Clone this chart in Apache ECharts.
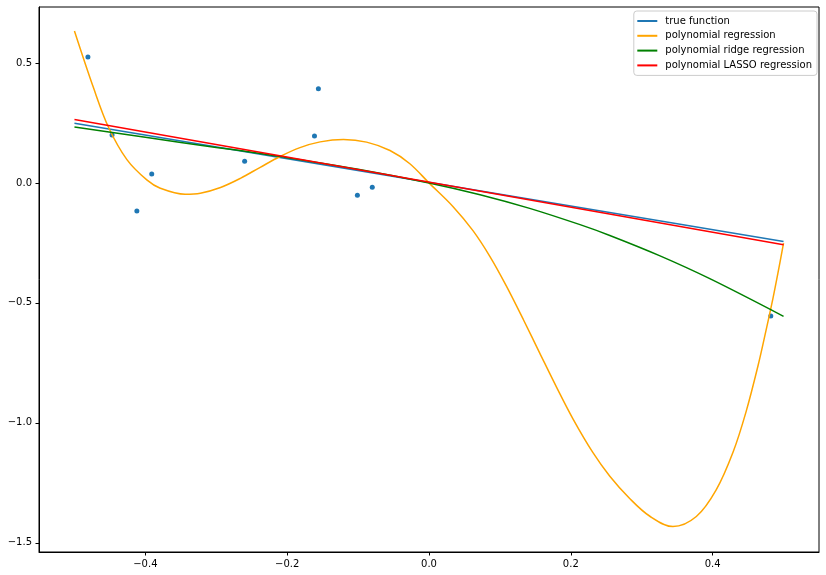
<!DOCTYPE html>
<html><head><meta charset="utf-8">
<script src="https://cdn.jsdelivr.net/npm/echarts@6/dist/echarts.min.js"></script>
<style>html,body{margin:0;padding:0;background:#fff}#c{width:826px;height:575px}</style>
</head><body><div id="c"></div>
<script>
// ---- data ----
const seriesNames = ['true function', 'polynomial regression', 'polynomial ridge regression', 'polynomial LASSO regression'];
const xTicks = [-0.4, -0.2, 0.0, 0.2, 0.4];
const yTicks = [-1.5, -1.0, -0.5, 0.0, 0.5];

const sampleX = [-0.481, -0.447, -0.412, -0.391, -0.260, -0.1615, -0.156, -0.101, -0.080, 0.482];
const sampleY = [0.525, 0.200, -0.117, 0.0375, 0.090, 0.195, 0.392, -0.051, -0.018, -0.555];

const trueX = [-0.5, 0.5];
const trueY = [0.249, -0.244];

const polyX = [-0.5, -0.473, -0.452, -0.426, -0.398, -0.379, -0.344, -0.3225, -0.294, -0.266, -0.238, -0.210, -0.182, -0.1535, -0.1207, -0.088, -0.055, -0.027, 0.0, 0.034, 0.062, 0.086, 0.109, 0.133, 0.156, 0.180, 0.203, 0.231, 0.255, 0.283, 0.311, 0.344, 0.377, 0.405, 0.429, 0.447, 0.464, 0.476, 0.485, 0.492, 0.5];
const polyY = [0.633, 0.395, 0.232, 0.097, 0.0125, -0.022, -0.047, -0.043, -0.019, 0.019, 0.065, 0.110, 0.147, 0.171, 0.181, 0.170, 0.135, 0.080, 0.0, -0.099, -0.199, -0.307, -0.429, -0.569, -0.708, -0.852, -0.983, -1.123, -1.222, -1.315, -1.388, -1.432, -1.39, -1.279, -1.12, -0.955, -0.762, -0.605, -0.482, -0.377, -0.251];

const ridgeX = [-0.5, -0.4, -0.3, -0.238, -0.2, -0.1, 0.0, 0.072, 0.142, 0.213, 0.255, 0.325, 0.396, 0.5];
const ridgeY = [0.233, 0.19, 0.148, 0.123, 0.105, 0.057, 0.0, -0.049, -0.106, -0.174, -0.219, -0.303, -0.399, -0.556];

const lassoX = [-0.5, 0.5];
const lassoY = [0.264, -0.258];

// ---- chart ----
const zip = (xs, ys) => xs.map((x, i) => [x, ys[i]]);
const FONT = 'DejaVu Sans';
const fmt = v => { const s = (Math.abs(v) < 1e-9 ? 0 : v).toFixed(1); return s.replace('-', '\u2212'); };
const colors = ['#1f77b4', '#ffa500', '#008000', '#ff0000'];

const chart = echarts.init(document.getElementById('c'), null, {renderer: 'canvas'});
chart.setOption({
  animation: false,
  backgroundColor: '#fff',
  grid: {left: 39, right: 7, top: 7, bottom: 23, show: true, borderColor: '#000', borderWidth: 1, backgroundColor: 'transparent'},
  xAxis: {
    type: 'value', min: -0.55, max: 0.55,
    splitLine: {show: false},
    axisLine: {show: true, onZero: false, lineStyle: {color: '#000', width: 1}},
    axisTick: {show: true, length: 3.5, customValues: xTicks, lineStyle: {color: '#000', width: 1}},
    axisLabel: {customValues: xTicks, formatter: fmt, fontFamily: FONT, fontSize: 10, color: '#000', margin: 7}
  },
  yAxis: {
    type: 'value', min: -1.538, max: 0.733,
    splitLine: {show: false},
    axisLine: {show: true, onZero: false, lineStyle: {color: '#000', width: 1}},
    axisTick: {show: true, length: 3.5, customValues: yTicks, lineStyle: {color: '#000', width: 1}},
    axisLabel: {customValues: yTicks, formatter: fmt, fontFamily: FONT, fontSize: 10, color: '#000', margin: 7}
  },
  legend: {
    orient: 'vertical', right: 9, top: 11,
    data: seriesNames.map(n => ({name: n, icon: 'rect'})),
    itemWidth: 20, itemHeight: 2, itemGap: 2.8,
    textStyle: {fontFamily: FONT, fontSize: 10, color: '#000', lineHeight: 12, padding: [0, 0, 0, 3]},
    backgroundColor: '#fff', borderColor: '#cccccc', borderWidth: 1, borderRadius: 3,
    padding: [4, 5, 4, 3.5]
  },
  series: [
    {type: 'scatter', data: zip(sampleX, sampleY), symbolSize: 5, itemStyle: {color: '#1f77b4', opacity: 1}, z: 1, silent: true},
    {name: seriesNames[0], type: 'line', data: zip(trueX, trueY), showSymbol: false, symbol: 'none', lineStyle: {color: colors[0], width: 1.5}, itemStyle: {color: colors[0]}, z: 2},
    {name: seriesNames[1], type: 'line', data: zip(polyX, polyY), showSymbol: false, symbol: 'none', smooth: 0.35, lineStyle: {color: colors[1], width: 1.5}, itemStyle: {color: colors[1]}, z: 3},
    {name: seriesNames[2], type: 'line', data: zip(ridgeX, ridgeY), showSymbol: false, symbol: 'none', smooth: 0.35, lineStyle: {color: colors[2], width: 1.5}, itemStyle: {color: colors[2]}, z: 4},
    {name: seriesNames[3], type: 'line', data: zip(lassoX, lassoY), showSymbol: false, symbol: 'none', lineStyle: {color: colors[3], width: 1.5}, itemStyle: {color: colors[3]}, z: 5}
  ]
});
</script>
</body></html>
